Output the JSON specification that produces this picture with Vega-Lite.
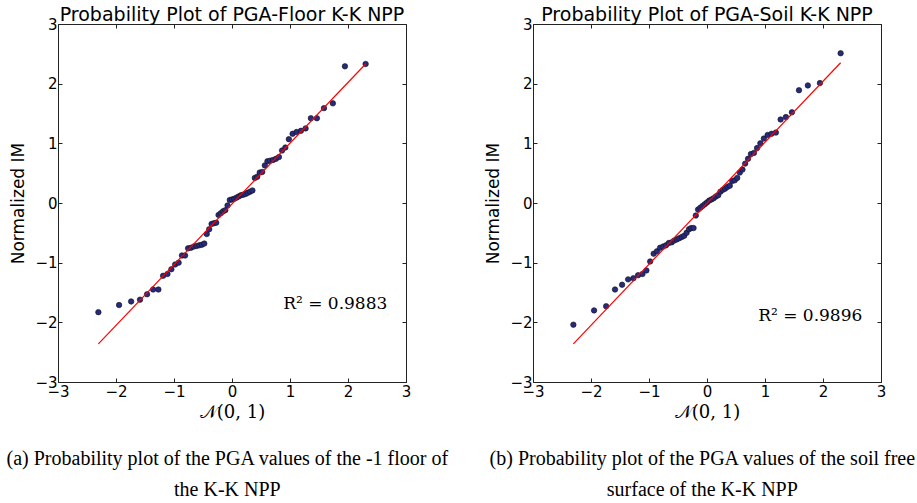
{
  "$schema": "https://vega.github.io/schema/vega-lite/v6.json",
  "padding": {"left": 5, "top": 5, "right": 0, "bottom": 0},
  "background": "white",
  "datasets": {
    "floor": [
      {"q": -2.304, "v": -1.83}, {"q": -1.947, "v": -1.71}, {"q": -1.739, "v": -1.65}, {"q": -1.586, "v": -1.62},
      {"q": -1.464, "v": -1.53}, {"q": -1.36, "v": -1.45}, {"q": -1.269, "v": -1.45}, {"q": -1.188, "v": -1.22},
      {"q": -1.113, "v": -1.19}, {"q": -1.045, "v": -1.11}, {"q": -0.98, "v": -1.03}, {"q": -0.92, "v": -1.0},
      {"q": -0.863, "v": -0.88}, {"q": -0.809, "v": -0.88}, {"q": -0.757, "v": -0.76}, {"q": -0.707, "v": -0.75},
      {"q": -0.658, "v": -0.73}, {"q": -0.611, "v": -0.72}, {"q": -0.566, "v": -0.71}, {"q": -0.521, "v": -0.7},
      {"q": -0.478, "v": -0.68}, {"q": -0.435, "v": -0.52}, {"q": -0.393, "v": -0.44}, {"q": -0.352, "v": -0.35},
      {"q": -0.311, "v": -0.34}, {"q": -0.272, "v": -0.33}, {"q": -0.232, "v": -0.2}, {"q": -0.193, "v": -0.17},
      {"q": -0.154, "v": -0.14}, {"q": -0.115, "v": -0.12}, {"q": -0.077, "v": -0.04}, {"q": -0.038, "v": 0.05},
      {"q": 0.0, "v": 0.06}, {"q": 0.038, "v": 0.07}, {"q": 0.077, "v": 0.09}, {"q": 0.115, "v": 0.11},
      {"q": 0.154, "v": 0.13}, {"q": 0.193, "v": 0.14}, {"q": 0.232, "v": 0.15}, {"q": 0.272, "v": 0.17},
      {"q": 0.311, "v": 0.19}, {"q": 0.352, "v": 0.21}, {"q": 0.393, "v": 0.42}, {"q": 0.435, "v": 0.44},
      {"q": 0.478, "v": 0.51}, {"q": 0.521, "v": 0.52}, {"q": 0.566, "v": 0.63}, {"q": 0.611, "v": 0.7},
      {"q": 0.658, "v": 0.71}, {"q": 0.707, "v": 0.72}, {"q": 0.757, "v": 0.74}, {"q": 0.809, "v": 0.77},
      {"q": 0.863, "v": 0.88}, {"q": 0.92, "v": 0.93}, {"q": 0.98, "v": 1.07}, {"q": 1.045, "v": 1.16},
      {"q": 1.113, "v": 1.19}, {"q": 1.188, "v": 1.21}, {"q": 1.269, "v": 1.25}, {"q": 1.36, "v": 1.42},
      {"q": 1.464, "v": 1.42}, {"q": 1.586, "v": 1.59}, {"q": 1.739, "v": 1.67}, {"q": 1.947, "v": 2.29},
      {"q": 2.304, "v": 2.33}
    ],
    "soil": [
      {"q": -2.304, "v": -2.04}, {"q": -1.947, "v": -1.8}, {"q": -1.739, "v": -1.73}, {"q": -1.586, "v": -1.45},
      {"q": -1.464, "v": -1.37}, {"q": -1.36, "v": -1.28}, {"q": -1.269, "v": -1.26}, {"q": -1.188, "v": -1.21},
      {"q": -1.113, "v": -1.19}, {"q": -1.045, "v": -1.13}, {"q": -0.98, "v": -0.98}, {"q": -0.92, "v": -0.85},
      {"q": -0.863, "v": -0.81}, {"q": -0.809, "v": -0.75}, {"q": -0.757, "v": -0.73}, {"q": -0.707, "v": -0.71},
      {"q": -0.658, "v": -0.67}, {"q": -0.611, "v": -0.66}, {"q": -0.566, "v": -0.63}, {"q": -0.521, "v": -0.61},
      {"q": -0.478, "v": -0.59}, {"q": -0.435, "v": -0.57}, {"q": -0.393, "v": -0.55}, {"q": -0.352, "v": -0.5},
      {"q": -0.311, "v": -0.44}, {"q": -0.272, "v": -0.42}, {"q": -0.232, "v": -0.42}, {"q": -0.193, "v": -0.21},
      {"q": -0.154, "v": -0.11}, {"q": -0.115, "v": -0.08}, {"q": -0.077, "v": -0.05}, {"q": -0.038, "v": -0.02},
      {"q": 0.0, "v": 0.01}, {"q": 0.038, "v": 0.04}, {"q": 0.077, "v": 0.06}, {"q": 0.115, "v": 0.08},
      {"q": 0.154, "v": 0.11}, {"q": 0.193, "v": 0.13}, {"q": 0.232, "v": 0.19}, {"q": 0.272, "v": 0.22},
      {"q": 0.311, "v": 0.24}, {"q": 0.352, "v": 0.27}, {"q": 0.393, "v": 0.29}, {"q": 0.435, "v": 0.37},
      {"q": 0.478, "v": 0.38}, {"q": 0.521, "v": 0.42}, {"q": 0.566, "v": 0.51}, {"q": 0.611, "v": 0.56},
      {"q": 0.658, "v": 0.66}, {"q": 0.707, "v": 0.74}, {"q": 0.757, "v": 0.82}, {"q": 0.809, "v": 0.84},
      {"q": 0.863, "v": 0.92}, {"q": 0.92, "v": 1.0}, {"q": 0.98, "v": 1.08}, {"q": 1.045, "v": 1.14},
      {"q": 1.113, "v": 1.16}, {"q": 1.188, "v": 1.18}, {"q": 1.269, "v": 1.4}, {"q": 1.36, "v": 1.44},
      {"q": 1.464, "v": 1.52}, {"q": 1.586, "v": 1.89}, {"q": 1.739, "v": 1.97}, {"q": 1.947, "v": 2.01},
      {"q": 2.304, "v": 2.51}
    ],
    "fitFloor": [{"q": -2.304, "v": -2.36}, {"q": 2.304, "v": 2.33}],
    "fitSoil": [{"q": -2.304, "v": -2.36}, {"q": 2.304, "v": 2.35}]
  },
  "config": {
    "font": "DejaVu Sans",
    "view": {"stroke": "#222", "strokeWidth": 1},
    "axis": {
      "grid": false, "domain": false, "tickColor": "#222", "tickSize": -4, "tickWidth": 1,
      "labelFont": "DejaVu Sans", "labelFontSize": 15, "labelColor": "#000",
      "labelFlush": false, "labelOverlap": false,
      "titleFont": "DejaVu Sans", "titleFontWeight": "normal", "titleColor": "#000"
    },
    "title": {"font": "DejaVu Sans", "fontSize": 19, "fontWeight": "normal", "color": "#000"},
    "concat": {"spacing": 35}
  },
  "hconcat": [
    {
      "title": {"text": ["(a) Probability plot of the PGA values of the -1 floor of", "the K-K NPP"], "orient": "bottom", "font": "Liberation Serif", "fontSize": 20, "lineHeight": 31, "offset": 27, "anchor": "middle", "dx": 17},
      "vconcat": [
        {
          "title": {"text": "Probability Plot of PGA-Floor K-K NPP", "offset": -8},
          "width": 348, "height": 358,
          "layer": [
            {
              "data": {"name": "floor"},
              "mark": {"type": "circle", "size": 30, "opacity": 1, "color": "#262b80", "stroke": "#111", "strokeWidth": 0.6},
              "encoding": {
                "x": {"field": "q", "type": "quantitative", "scale": {"domain": [-3, 3], "nice": false},
                      "axis": {"orient": "bottom", "values": [-3, -2, -1, 0, 1, 2, 3], "title": "𝒩(0, 1)", "titleFont": "DejaVu Serif", "titleFontSize": 18, "labelPadding": 6, "titlePadding": 4}},
                "y": {"field": "v", "type": "quantitative", "scale": {"domain": [-3, 3], "nice": false},
                      "axis": {"orient": "left", "values": [-3, -2, -1, 0, 1, 2, 3], "title": "Normalized IM", "titleFontSize": 17, "labelPadding": 5, "titlePadding": 7}}
              }
            },
            {
              "data": {"name": "fitFloor"},
              "mark": {"type": "line", "color": "#ff0000", "strokeWidth": 1.2},
              "encoding": {
                "x": {"field": "q", "type": "quantitative", "axis": {"orient": "top", "values": [-3, -2, -1, 0, 1, 2, 3], "labels": false, "title": null, "minExtent": 0, "maxExtent": 0, "labelPadding": 0}},
                "y": {"field": "v", "type": "quantitative", "axis": {"orient": "right", "values": [-3, -2, -1, 0, 1, 2, 3], "labels": false, "title": null, "minExtent": 0, "maxExtent": 0, "labelPadding": 0}}
              }
            },
            {
              "data": {"values": [{}]},
              "mark": {"type": "text", "text": "R² = 0.9883", "font": "DejaVu Serif", "fontSize": 17, "color": "#000"},
              "encoding": {
                "x": {"datum": 1.78, "type": "quantitative", "axis": null},
                "y": {"datum": -1.69, "type": "quantitative", "axis": null}
              }
            }
          ],
          "resolve": {"axis": {"x": "independent", "y": "independent"}}
        }
      ]
    },
    {
      "title": {"text": ["(b) Probability plot of the PGA values of the soil free", "surface of the K-K NPP"], "orient": "bottom", "font": "Liberation Serif", "fontSize": 20, "lineHeight": 31, "offset": 27, "anchor": "middle", "dx": 17},
      "vconcat": [
        {
          "title": {"text": "Probability Plot of PGA-Soil K-K NPP", "offset": -8},
          "width": 348, "height": 358,
          "layer": [
            {
              "data": {"name": "soil"},
              "mark": {"type": "circle", "size": 30, "opacity": 1, "color": "#262b80", "stroke": "#111", "strokeWidth": 0.6},
              "encoding": {
                "x": {"field": "q", "type": "quantitative", "scale": {"domain": [-3, 3], "nice": false},
                      "axis": {"orient": "bottom", "values": [-3, -2, -1, 0, 1, 2, 3], "title": "𝒩(0, 1)", "titleFont": "DejaVu Serif", "titleFontSize": 18, "labelPadding": 6, "titlePadding": 4}},
                "y": {"field": "v", "type": "quantitative", "scale": {"domain": [-3, 3], "nice": false},
                      "axis": {"orient": "left", "values": [-3, -2, -1, 0, 1, 2, 3], "title": "Normalized IM", "titleFontSize": 17, "labelPadding": 5, "titlePadding": 7}}
              }
            },
            {
              "data": {"name": "fitSoil"},
              "mark": {"type": "line", "color": "#ff0000", "strokeWidth": 1.2},
              "encoding": {
                "x": {"field": "q", "type": "quantitative", "axis": {"orient": "top", "values": [-3, -2, -1, 0, 1, 2, 3], "labels": false, "title": null, "minExtent": 0, "maxExtent": 0, "labelPadding": 0}},
                "y": {"field": "v", "type": "quantitative", "axis": {"orient": "right", "values": [-3, -2, -1, 0, 1, 2, 3], "labels": false, "title": null, "minExtent": 0, "maxExtent": 0, "labelPadding": 0}}
              }
            },
            {
              "data": {"values": [{}]},
              "mark": {"type": "text", "text": "R² = 0.9896", "font": "DejaVu Serif", "fontSize": 17, "color": "#000"},
              "encoding": {
                "x": {"datum": 1.78, "type": "quantitative", "axis": null},
                "y": {"datum": -1.89, "type": "quantitative", "axis": null}
              }
            }
          ],
          "resolve": {"axis": {"x": "independent", "y": "independent"}}
        }
      ]
    }
  ]
}
